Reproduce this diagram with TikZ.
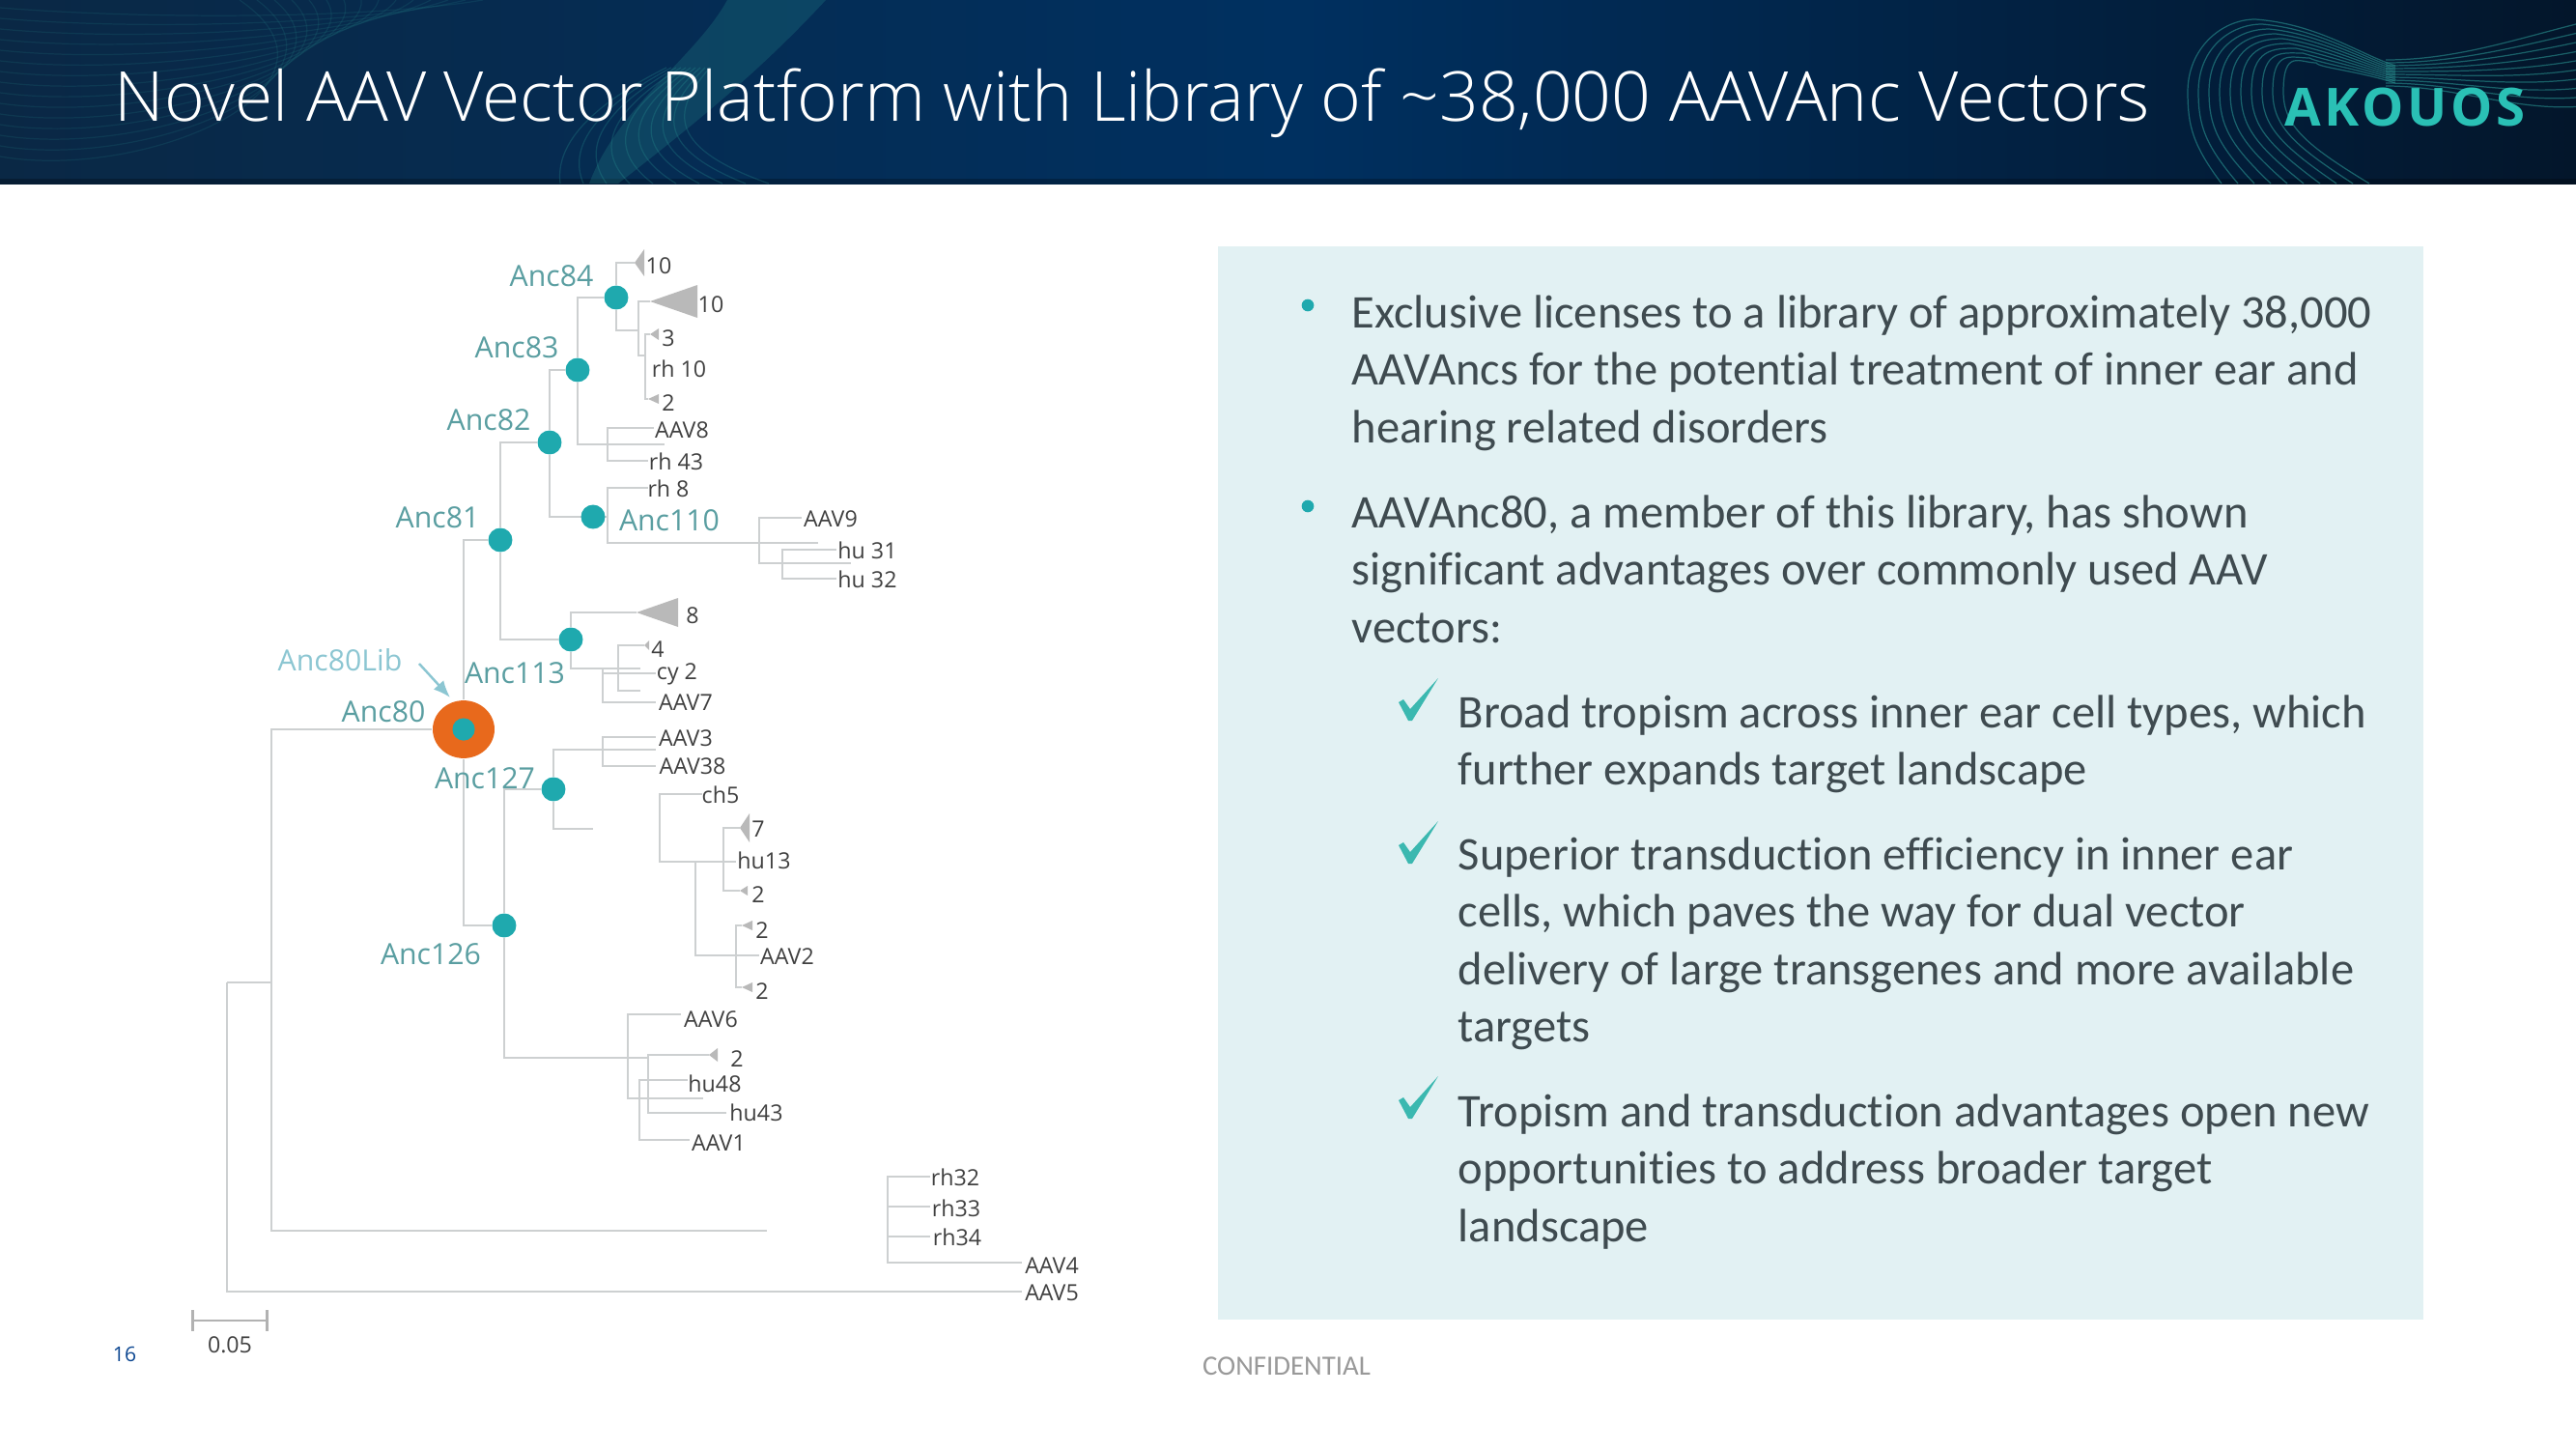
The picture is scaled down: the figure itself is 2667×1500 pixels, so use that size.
\documentclass[tikz,border=0pt]{standalone}
\usepackage{fontspec}
\setmainfont{Open Sans}
\newfontfamily\bodyfont[Ligatures=NoCommon]{Carlito}
\newfontfamily\titlefont{Open Sans Light}
\usepackage{xcolor}
\usetikzlibrary{arrows.meta,shapes.geometric,backgrounds}

\definecolor{navyA}{HTML}{0A2845}
\definecolor{navyB}{HTML}{003060}
\definecolor{navyC}{HTML}{03162B}
\definecolor{tealdot}{HTML}{1FA9AE}
\definecolor{logoteal}{HTML}{2AC0B5}
\definecolor{anclabel}{HTML}{5A9EA1}
\definecolor{liblabel}{HTML}{8CC6D2}
\definecolor{orangering}{HTML}{E8691C}
\definecolor{panelfill}{HTML}{E2F1F3}
\definecolor{bodygray}{HTML}{3F4B50}
\definecolor{branchgray}{HTML}{CDD0D1}
\definecolor{wavegreen}{HTML}{2C9C98}
\definecolor{ticktail}{HTML}{3BB8B0}

\tikzset{
    branch/.style={draw=branchgray,line width=0.8pt},
    collapsed/.style={fill=gray!55},
    ancdot/.style={circle,fill=tealdot,minimum size=7.1pt,inner sep=0pt},
    anclbl/.style={font=\fontsize{8.6}{10}\selectfont,text=anclabel,inner sep=0pt},
    tiplbl/.style={font=\fontsize{6.6}{8}\selectfont,text=black!75,inner sep=0pt},
    bodytxt/.style={font=\bodyfont\fontsize{13.8}{16.87}\selectfont,text=bodygray,align=left,anchor=north west,inner sep=0pt},
    bulletdot/.style={circle,fill=tealdot,minimum size=3.6pt,inner sep=0pt},
    wave/.style={draw=wavegreen,line width=0.35pt,opacity=0.55}
}

\begin{document}
\begin{tikzpicture}[x=0.01cm,y=-0.01cm]
    \useasboundingbox (0,0) rectangle (2667,1500);

    % Header band
    \shade[left color=navyA,right color=navyC,middle color=navyB] (0,0) rectangle (2667,191);
    \fill[black,opacity=0.25] (0,185) rectangle (2667,191);

    % Header waves
    \foreach \i in {0,...,14} {
        \draw[wave,opacity=0.14] (0,{8+\i*11}) .. controls (150,{20+\i*12}) and (380,{20+\i*5}) .. ({500-\i*18},0);
    }
    \fill[wavegreen,opacity=0.22] (753,0) -- (855,0) .. controls (790,70) and (730,120) .. (640,190) -- (610,190) .. controls (640,110) and (720,60) .. cycle;
    \foreach \i in {0,...,9} {
        \draw[wave,opacity=0.25] ({580+\i*24},190) .. controls ({575+\i*12},150) and ({610+\i*10},110) .. ({690+\i*5},70);
    }
    \foreach \i in {0,...,9} {
        \draw[wave] ({2300+\i*17},190) .. controls ({2270+\i*13},150) and ({2265+\i*11},130) .. ({2265+\i*11},95)
            .. controls ({2265+\i*11},50) and ({2300+\i*9},{20+\i*5}) .. ({2335+\i*7},{20+\i*5})
            .. controls (2400,{25+\i*5}) and (2440,{55+\i*2}) .. (2480,{68+\i*2});
        \draw[wave] (2470,{62+\i*3}) .. controls (2540,{62+\i*3}) and (2600,{42+\i*8}) .. (2667,{25+\i*9.5});
    }

    % Title and logo
    \node[anchor=base west,inner sep=0pt,text=white,font=\titlefont\fontsize{20.3}{24}\selectfont] (title) at (118,126) {Novel AAV Vector Platform with Library of \textasciitilde 38,000 AAVAnc Vectors};
    \node[anchor=center,inner sep=0pt,text=logoteal,font=\bfseries\fontsize{15.5}{18}\selectfont] (logo) at (2490,111) {\addfontfeature{LetterSpace=7}AKOUOS};

    % Ancestor dots
    \foreach \name/\x/\y in {d84/638/308, d83/598/383, d82/569/458, d110/614/535, d81/518/559,
        d113/591/662, d127/573/817, d126/522/958} {
        \node[ancdot] (\name) at (\x,\y) {};
    }
    \node[ellipse,fill=orangering,minimum width=18.2pt,minimum height=17pt,inner sep=0pt] (d80) at (480,755) {};
    \node[ancdot,minimum size=6.6pt] (d80in) at (480,755) {};

    % Ancestor labels
    \foreach \name/\x/\y/\label in {l84/571/286/Anc84, l83/535/360/Anc83, l82/506/435/Anc82, l81/453/536/Anc81,
        l110/693/539/Anc110, l113/533/697/Anc113, l80/397/737/Anc80, l127/502/806/Anc127, l126/446/988/Anc126} {
        \node[anclbl] (\name) at (\x,\y) {\label};
    }
    \node[anclbl,text=liblabel] (llib) at (352,683) {Anc80Lib};
    \coordinate (libend) at (466,722);
    \draw[-{Latex[length=5pt,width=4pt]},liblabel,line width=0.7pt] (llib.east) ++(17,4) -- (libend);

    % Tip labels
    \foreach \name/\x/\y/\label in {t1/682/275/10, t2/736/315/10, t3/692/350/3, t4/703/382/rh 10, t5/692/417/2,
        t6/706/445/AAV8, t7/700/478/rh 43, t8/692/506/rh 8, t9/860/537/AAV9, t10/898/570/hu 31, t11/898/600/hu 32,
        t12/717/637/8, t13/681/672/4, t14/701/698/cy 2, t15/710/727/AAV7, t16/710/764/AAV3, t17/717/793/AAV38,
        t18/746/823/ch5, t19/785/858/7, t20/791/891/hu13, t21/785/926/2, t22/789/963/2, t23/815/990/AAV2, t24/789/1026/2,
        t25/736/1055/AAV6, t26/763/1096/2, t27/740/1122/hu48, t28/783/1152/hu43, t29/744/1183/AAV1,
        t30/989/1219/rh32, t31/990/1251/rh33, t32/991/1281/rh34, t33/1089/1310/AAV4, t34/1089/1338/AAV5, t35/238/1392/0.05} {
        \node[tiplbl] (\name) at (\x,\y) {\label};
    }

    % Junctions and free branch ends
    \foreach \name/\x/\y in {root/235/1017, j0/281/1017, erh/794/1274, a5/1058/1337,
        j1/661/342, j2/668/368, c1/657/272, c2/673/312, c3/673/346, c5/671/413,
        e8/688/460, j8/629/460, a6/677/443, a7/671/477,
        j110/629/535, a8/671/505, e9/847/562, j9/786/562, a9/830/536, e31/881/583,
        j31/810/583, a10/866/569, a11/866/599,
        c12/659/634, e113/663/692, j71/640/692, c13/667/668, e71/663/715, j72/624/692, a14/679/697, a15/679/727,
        e3/679/776, j3/624/776, a16/679/763, a17/679/793, e127/614/858,
        jc/683/860, a18/727/822, e13/762/892, j13/749/892, c19/766/857, c21/766/922,
        j14/720/892, a23/786/989, j15/762/989, c22/768/958, c24/768/1022,
        e6/670/1095, j6/650/1095, a25/705/1050, e61/728/1137, j61/671/1095, c26/734/1092, a28/752/1152,
        j62/662/1137, a27/712/1118, a29/714/1180,
        jrh/919/1262, a30/963/1218, a31/963/1249, a32/963/1280, a33/1058/1307} {
        \coordinate (\name) at (\x,\y);
    }

    % Tree branches
    \begin{scope}[on background layer]
        \foreach \from/\to in {root/a5, j0/d80, j0/erh, d80/d81, d80/d126, d81/d82, d81/d113,
            d82/d83, d82/j110, d83/d84, d83/e8, d84/c1, d84/j1, j1/c2, j1/j2, j2/c3, j2/c5, j8/a6, j8/a7,
            j110/a8, j110/e9, j9/a9, j9/e31, j31/a10, j31/a11,
            d113/c12, d113/e113, j71/c13, j71/e71, j72/a14, j72/a15,
            d126/d127, d126/e6, d127/e3, d127/e127, j3/a16, j3/a17,
            jc/a18, jc/e13, j13/c19, j13/c21, j14/a23, j15/c22, j15/c24,
            j6/a25, j6/e61, j61/c26, j61/a28, j62/a27, j62/a29,
            jrh/a30, jrh/a31, jrh/a32, jrh/a33} {
            \draw[branch] (\from) |- (\to);
        }
        \draw[branch] (root) -- (j0);
    \end{scope}

    % Collapsed clades
    \foreach \tip/\w/\h in {c1/10/14, c2/49/17, c3/9/6, c5/11/5, c12/43/15, c13/5/5, c19/10/15, c21/8/5, c22/11/5, c24/11/5, c26/9/7} {
        \fill[collapsed] (\tip) -- ++(\w,-\h) -- ++(0,2*\h) -- cycle;
    }

    % Scale bar
    \coordinate (sbl) at (198,1367);
    \coordinate (sbr) at (278,1367);
    \draw[branch,gray!60,|-|] (sbl) -- (sbr);

    % Text panel
    \fill[panelfill] (1261,255) rectangle (2509,1366);
    \foreach \name/\y in {b1/316, b2/524} {
        \node[bulletdot] (\name) at (1354,\y) {};
    }
    \node[bodytxt] (p1) at (1399,305) {Exclusive licenses to a library of approximately 38,000\\AAVAncs for the potential treatment of inner ear and\\hearing related disorders};
    \node[bodytxt] (p2) at (1399,512) {AAVAnc80, a member of this library, has shown\\significant advantages over commonly used AAV\\vectors:};
    \node[bodytxt] (p3) at (1509,719) {Broad tropism across inner ear cell types, which\\further expands target landscape};
    \node[bodytxt] (p4) at (1509,866) {Superior transduction efficiency in inner ear\\cells, which paves the way for dual vector\\delivery of large transgenes and more available\\targets};
    \node[bodytxt] (p5) at (1509,1132) {Tropism and transduction advantages open new\\opportunities to address broader target\\landscape};

    % Check marks
    \foreach \y in {0,148,412} {
        \fill[ticktail] (1448,727+\y) -- (1453,724+\y) -- (1460,734+\y) -- (1489,702+\y) -- (1462,746+\y) -- (1458,746+\y) -- cycle;
    }

    % Footer
    \node[inner sep=0pt,text=tealdot!60!blue!70!black,font=\fontsize{6}{7}\selectfont] (pagenum) at (129,1402) {16};
    \node[inner sep=0pt,text=gray!80,font=\bodyfont\fontsize{8.2}{9}\selectfont] (conf) at (1332,1414) {CONFIDENTIAL};
\end{tikzpicture}
\end{document}
